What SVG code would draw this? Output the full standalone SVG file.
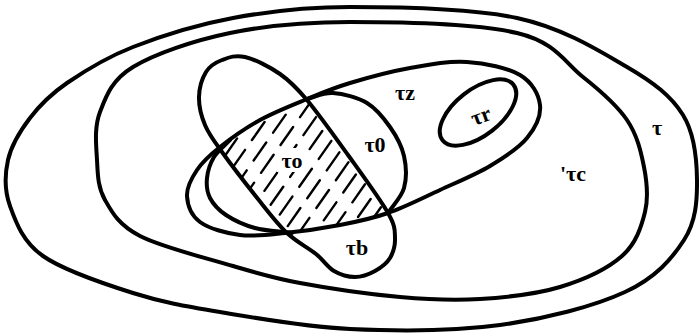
<svg xmlns="http://www.w3.org/2000/svg" width="699" height="336" viewBox="0 0 699 336">
<style>
.c{fill:none;stroke:#000;stroke-width:4;stroke-linecap:round;stroke-linejoin:round}
.h{fill:none;stroke:#000;stroke-width:2.4;stroke-linecap:round;stroke-dasharray:22 12}
.t{font-family:"Liberation Serif","DejaVu Serif",serif;font-size:22px;font-weight:bold;fill:#000;text-anchor:middle}
</style>
<defs>
<clipPath id="hclip">
<path clip-rule="evenodd" d="M222,150 C232,139 246,128 260,121 C276,112 292,105 307,100 L348,155 L388,213 C372,219 357,222 340,225 C322,229 304,231 287,233 L258,199 Z M277,148 L307,148 L307,172 L277,172 Z"/>
</clipPath>
</defs>
<rect width="699" height="336" fill="#fff"/>
<g id="tau-outer">
<path class="c" d="M350,7 C397.3,7 470.8,8 517,18 C563.2,28 599.3,50.8 627,67 C654.7,83.2 671.3,96.2 683,115 C694.7,133.8 696.8,159.2 697,180 C697.2,200.8 696,221.3 684,240 C672,258.7 655.7,277.8 625,292 C594.3,306.2 545.8,318.8 500,325 C454.2,331.2 396.7,331.2 350,329 C303.3,326.8 256.2,318 220,312 C183.8,306 162.5,302.3 133,293 C103.5,283.7 63.5,270.5 43,256 C22.5,241.5 15.8,222 10,206 C4.2,190 4.7,174.7 8,160 C11.3,145.3 20.2,130.8 30,118 C39.8,105.2 49.8,94.8 67,83 C84.2,71.2 105.3,57.8 133,47 C160.7,36.2 196.8,24.7 233,18 C269.2,11.3 302.7,7 350,7 Z"/>
<text class="t" x="657" y="135">τ</text>
</g>
<g id="tau-c">
<path class="c" d="M350,22 C397.8,22 478.2,23.8 517,33 C555.8,42.2 564.7,62.5 583,77 C601.3,91.5 616.8,105 627,120 C637.2,135 641,151.7 644,167 C647,182.3 648.7,197.2 645,212 C641.3,226.8 636.2,243.5 622,256 C607.8,268.5 583.7,279.8 560,287 C536.3,294.2 506.7,297.3 480,299 C453.3,300.7 430,299.7 400,297 C370,294.3 327.8,288.2 300,283 C272.2,277.8 259.7,273.8 233,266 C206.3,258.2 161.3,247 140,236 C118.7,225 112.2,212.7 105,200 C97.8,187.3 97.8,174.7 97,160 C96.2,145.3 94,127.5 100,112 C106,96.5 111.3,80.2 133,67 C154.7,53.8 193.8,40.5 230,33 C266.2,25.5 302.2,22 350,22 Z"/>
<text class="t" x="573" y="181">'τc</text>
</g>
<g id="tau-z">
<path class="c" d="M187,196 C186.5,187.3 191.5,178.2 197,170 C202.5,161.8 209.5,155.3 220,147 C230.5,138.7 245.5,128 260,120 C274.5,112 292,105.2 307,99 C322,92.8 332.8,88.2 350,83 C367.2,77.8 390.5,71.5 410,68 C429.5,64.5 448.7,60.8 467,62 C485.3,63.2 507.8,67.8 520,75 C532.2,82.2 538.8,94.5 540,105 C541.2,115.5 535.3,127.8 527,138 C518.7,148.2 504.5,157.3 490,166 C475.5,174.7 457,182.2 440,190 C423,197.8 404.7,207.2 388,213 C371.3,218.8 357.2,221.7 340,225 C322.8,228.3 301.7,231.3 285,233 C268.3,234.7 254.2,236.8 240,235 C225.8,233.2 208.8,228.5 200,222 C191.2,215.5 187.5,204.7 187,196 Z"/>
<text class="t" x="405" y="100">τz</text>
</g>
<g id="tau-r">
<ellipse class="c" cx="478" cy="112.5" rx="45" ry="23" transform="rotate(-38 478 112.5)"/>
<text class="t" x="481" y="123" transform="rotate(-20 481 116)">τr</text>
</g>
<g id="tau-0">
<path class="c" d="M307,99 C315.7,97 323,92.3 333,93 C343,93.7 357.5,97.3 367,103 C376.5,108.7 383.8,118.2 390,127 C396.2,135.8 401.7,145.8 404,156 C406.3,166.2 406.7,178.5 404,188 C401.3,197.5 393.3,204.7 388,213"/>
<path class="c" d="M230,140 C224.7,145.7 217.8,150.7 214,157 C210.2,163.3 207.7,171.2 207,178 C206.3,184.8 206.8,191.8 210,198 C213.2,204.2 218.5,210 226,215 C233.5,220 244,225 255,228 C266,231 279.7,231.3 292,233"/>
<text class="t" x="375" y="152">τ0</text>
</g>
<g id="tau-b">
<path class="c" d="M245,57 C254.7,59.3 269.7,66.8 280,74 C290.3,81.2 295.7,86.5 307,100 C318.3,113.5 334.5,136.2 348,155 C361.5,173.8 380.2,199.2 388,213 C395.8,226.8 394.7,230.5 395,238 C395.3,245.5 393.3,252.5 390,258 C386.7,263.5 380.8,267.8 375,271 C369.2,274.2 361.8,277 355,277 C348.2,277 340.5,274.8 334,271 C327.5,267.2 323.8,260.3 316,254 C308.2,247.7 296.7,242.2 287,233 C277.3,223.8 268.8,212.5 258,199 C247.2,185.5 230.8,164.3 222,152 C213.2,139.7 208.8,134.2 205,125 C201.2,115.8 198.8,105.8 199,97 C199.2,88.2 202.2,78.2 206,72 C209.8,65.8 215.5,62.5 222,60 C228.5,57.5 235.3,54.7 245,57 Z"/>
<text class="t" x="357" y="255">τb</text>
</g>
<g id="tau-o-hatch">
<g clip-path="url(#hclip)">
<line class="h" x1="166" y1="240" x2="306" y2="40" stroke-dashoffset="0"/>
<line class="h" x1="182" y1="240" x2="322" y2="40" stroke-dashoffset="14"/>
<line class="h" x1="198" y1="240" x2="338" y2="40" stroke-dashoffset="5"/>
<line class="h" x1="214" y1="240" x2="354" y2="40" stroke-dashoffset="20"/>
<line class="h" x1="230" y1="240" x2="370" y2="40" stroke-dashoffset="8"/>
<line class="h" x1="246" y1="240" x2="386" y2="40" stroke-dashoffset="25"/>
<line class="h" x1="262" y1="240" x2="402" y2="40" stroke-dashoffset="3"/>
<line class="h" x1="278" y1="240" x2="418" y2="40" stroke-dashoffset="17"/>
<line class="h" x1="294" y1="240" x2="434" y2="40" stroke-dashoffset="29"/>
<line class="h" x1="310" y1="240" x2="450" y2="40" stroke-dashoffset="10"/>
<line class="h" x1="326" y1="240" x2="466" y2="40" stroke-dashoffset="22"/>
<line class="h" x1="342" y1="240" x2="482" y2="40" stroke-dashoffset="6"/>
<line class="h" x1="358" y1="240" x2="498" y2="40" stroke-dashoffset="16"/>
<line class="h" x1="374" y1="240" x2="514" y2="40" stroke-dashoffset="27"/>
</g>
<text class="t" x="292" y="168">τo</text>
</g>
</svg>
